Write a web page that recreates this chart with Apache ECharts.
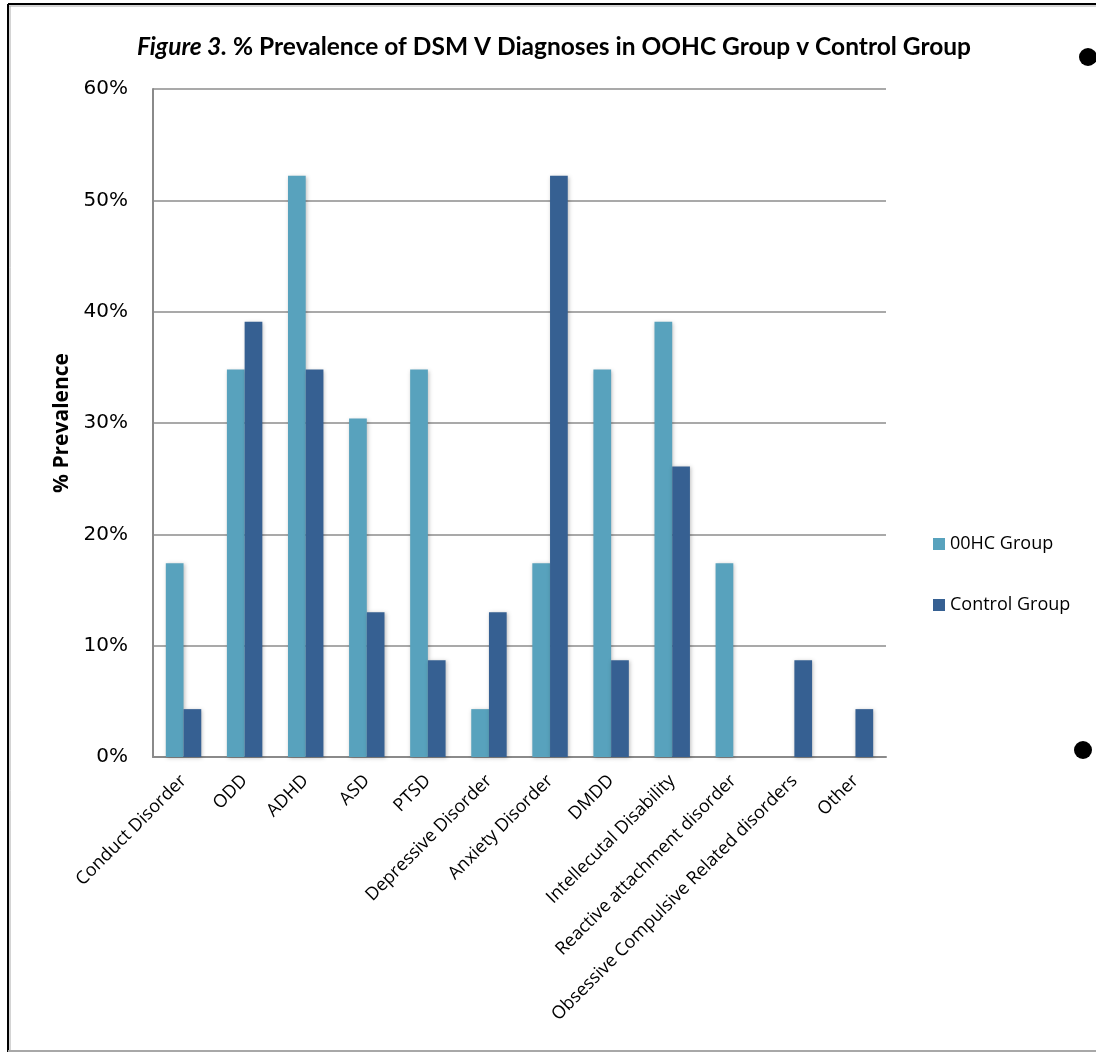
<!DOCTYPE html>
<html>
<head>
<meta charset="utf-8">
<script src="https://cdn.jsdelivr.net/npm/echarts@6/dist/echarts.min.js"></script>
<style>
  html, body { margin: 0; padding: 0; background: #fff; }
  #chart { width: 1096px; height: 1052px; }
</style>
</head>
<body>
<div id="chart"></div>
<script>
// Diagnosis categories along the x axis
const categories = [
  'Conduct Disorder', 'ODD', 'ADHD', 'ASD', 'PTSD', 'Depressive Disorder',
  'Anxiety Disorder', 'DMDD', 'Intellecutal Disability',
  'Reactive attachment disorder', 'Obsessive Compulsive Related disorders', 'Other'
];

// % prevalence per group
const oohcGroup    = [17.4, 34.8, 52.2, 30.4, 34.8, 4.3, 17.4, 34.8, 39.1, 17.4, 0, 0];
const controlGroup = [4.3, 39.1, 34.8, 13.0, 8.7, 13.0, 52.2, 8.7, 26.1, 0, 8.7, 4.3];

const seriesNames = ['00HC Group', 'Control Group'];
const seriesColors = ['#58A2BD', '#366092'];

const yMin = 0, yMax = 60, yStep = 10;

const chart = echarts.init(document.getElementById('chart'), null, { renderer: 'canvas' });

const barShadow = {
  shadowBlur: 4,
  shadowColor: 'rgba(0,0,0,0.25)',
  shadowOffsetX: 1,
  shadowOffsetY: 1
};

chart.setOption({
  backgroundColor: '#ffffff',
  animation: false,
  title: {
    text: '{it|Figure 3.} % Prevalence of DSM V Diagnoses in OOHC Group v Control Group',
    left: 549,
    textAlign: 'center',
    top: 30,
    textStyle: {
      fontFamily: 'Lato',
      fontWeight: 'bold',
      fontSize: 24.5,
      color: '#000',
      rich: {
        it: { fontFamily: 'Lato', fontWeight: 'bold', fontStyle: 'italic', fontSize: 24.5, color: '#000' }
      }
    }
  },
  legend: {
    orient: 'vertical',
    left: 933,
    top: 535,
    padding: 0,
    itemGap: 43,
    itemWidth: 12,
    itemHeight: 12,
    icon: 'rect',
    data: seriesNames,
    textStyle: { fontFamily: 'Open Sans', fontSize: 18, color: '#000' }
  },
  grid: { left: 153, right: 210, top: 89, bottom: 295, containLabel: false },
  xAxis: {
    type: 'category',
    data: categories,
    axisLine: { show: true, lineStyle: { color: '#8a8a8a', width: 2 } },
    axisTick: { show: false },
    axisLabel: {
      interval: 0,
      rotate: 45,
      margin: 21,
      fontFamily: 'Open Sans',
      fontSize: 18,
      color: '#000'
    }
  },
  yAxis: {
    type: 'value',
    min: yMin,
    max: yMax,
    interval: yStep,
    name: '% Prevalence',
    nameLocation: 'middle',
    nameGap: 80,
    nameRotate: 90,
    nameTextStyle: { fontFamily: 'Open Sans', fontWeight: 'bold', fontSize: 21, color: '#000' },
    axisLine: { show: true, lineStyle: { color: '#8a8a8a', width: 2 } },
    axisTick: { show: false },
    axisLabel: {
      formatter: '{value}%',
      margin: 25,
      fontFamily: 'DejaVu Sans',
      fontSize: 20,
      color: '#000'
    },
    splitLine: { show: true, lineStyle: { color: '#8c8c8c', width: 1.5 } }
  },
  series: [
    {
      name: seriesNames[0],
      type: 'bar',
      data: oohcGroup,
      barGap: '0%',
      barCategoryGap: '42%',
      itemStyle: Object.assign({ color: seriesColors[0] }, barShadow)
    },
    {
      name: seriesNames[1],
      type: 'bar',
      data: controlGroup,
      itemStyle: Object.assign({ color: seriesColors[1] }, barShadow)
    }
  ],
  graphic: [
    // page frame
    { type: 'line', shape: { x1: 8, y1: 4, x2: 1096, y2: 4 }, style: { stroke: '#000', lineWidth: 2 } },
    { type: 'line', shape: { x1: 8, y1: 6, x2: 1096, y2: 6 }, style: { stroke: '#aaa', lineWidth: 1 } },
    { type: 'line', shape: { x1: 8, y1: 4, x2: 8, y2: 1052 }, style: { stroke: '#000', lineWidth: 2 } },
    { type: 'line', shape: { x1: 10, y1: 6, x2: 10, y2: 1052 }, style: { stroke: '#aaa', lineWidth: 1 } },
    { type: 'line', shape: { x1: 8, y1: 1051, x2: 1096, y2: 1051 }, style: { stroke: '#a8a8a8', lineWidth: 2 } },
    // list bullets beside the figure
    { type: 'circle', shape: { cx: 1088, cy: 57, r: 9 }, style: { fill: '#000' } },
    { type: 'circle', shape: { cx: 1083, cy: 750, r: 9 }, style: { fill: '#000' } }
  ]
});
</script>
</body>
</html>
